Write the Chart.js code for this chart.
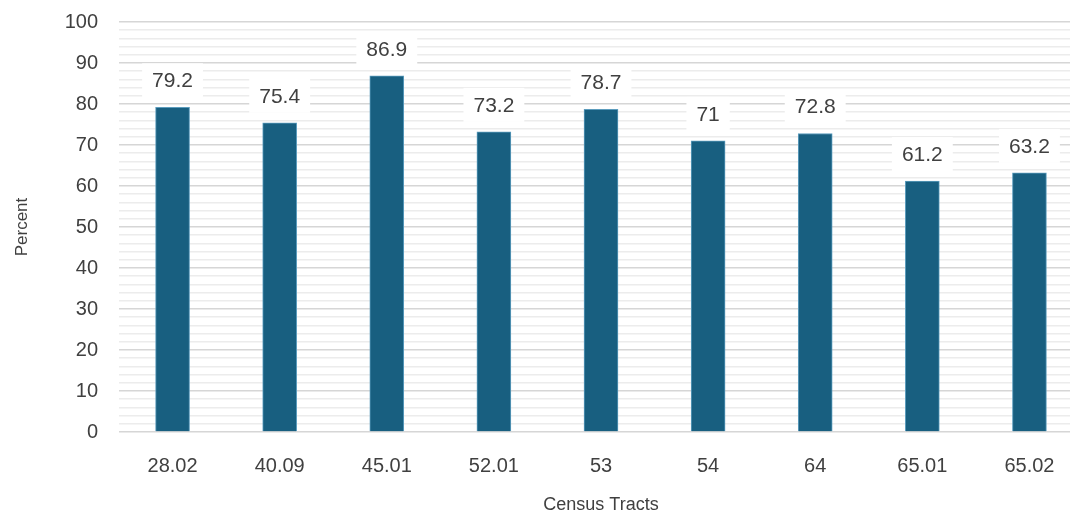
<!DOCTYPE html>
<html>
<head>
<meta charset="utf-8">
<script src="https://cdn.jsdelivr.net/npm/chart.js@4.4.1/dist/chart.umd.min.js"></script>
<style>
  html, body { margin: 0; padding: 0; background: #ffffff; overflow: hidden; }
  #wrap { width: 1083px; height: 517px; position: relative; }
</style>
</head>
<body>
<div id="wrap"><canvas id="chart"></canvas></div>
<script>
// Census tract categories and percent values
const tracts = ['28.02', '40.09', '45.01', '52.01', '53', '54', '64', '65.01', '65.02'];
const percents = [79.2, 75.4, 86.9, 73.2, 78.7, 71, 72.8, 61.2, 63.2];
const valueLabels = ['79.2', '75.4', '86.9', '73.2', '78.7', '71', '72.8', '61.2', '63.2'];

const FONT = "'Liberation Sans', Arial, sans-serif";
const TEXT = '#404040';

// Value labels drawn above each bar on a white box
const barLabels = {
  id: 'barLabels',
  afterDatasetsDraw(chart) {
    const { ctx } = chart;
    const meta = chart.getDatasetMeta(0);
    ctx.save();
    ctx.font = '21px ' + FONT;
    ctx.textAlign = 'center';
    ctx.textBaseline = 'middle';
    meta.data.forEach((bar, i) => {
      const txt = valueLabels[i];
      const cy = bar.y - 27;
      const w = ctx.measureText(txt).width + 20;
      const h = 34;
      ctx.fillStyle = '#ffffff';
      ctx.fillRect(bar.x - w / 2, cy - h / 2, w, h);
      ctx.fillStyle = TEXT;
      ctx.fillText(txt, bar.x, cy + 1);
    });
    ctx.restore();
  }
};

new Chart(document.getElementById('chart'), {
  type: 'bar',
  data: {
    labels: tracts,
    datasets: [{
      data: percents,
      backgroundColor: '#185f80',
      borderColor: '#5b9cbd',
      borderWidth: 1,
      barThickness: 34
    }]
  },
  options: {
    responsive: true,
    maintainAspectRatio: false,
    animation: false,
    layout: { padding: { top: 22, left: 0, right: 0, bottom: 0 } },
    plugins: { legend: { display: false }, tooltip: { enabled: false } },
    scales: {
      x: {
        grid: { display: false, drawTicks: false },
        border: { display: false },
        ticks: { color: TEXT, font: { family: FONT, size: 20 }, padding: 22 },
        title: {
          display: true, text: 'Census Tracts', color: TEXT,
          font: { family: FONT, size: 18 }, padding: { top: 0, bottom: 1 }
        },
        afterFit(scale) { scale.height = 85; scale.paddingLeft = 0; scale.paddingRight = 0; }
      },
      y: {
        min: 0, max: 100,
        ticks: {
          stepSize: 2, autoSkip: false,
          color: TEXT, font: { family: FONT, size: 20 }, padding: 21,
          callback: (v) => (v % 10 === 0 ? String(v) : '')
        },
        grid: {
          drawTicks: false,
          lineWidth: 1.5,
          color: (c) => (c.tick && c.tick.value % 10 === 0 ? '#d6d6d6' : '#ececec')
        },
        border: { display: false },
        title: {
          display: true, text: 'Percent', color: TEXT,
          font: { family: FONT, size: 17 }, padding: { top: 12, bottom: 0 }
        },
        afterFit(scale) { scale.width = 119; scale.paddingTop = 0; scale.paddingBottom = 0; }
      }
    }
  },
  plugins: [barLabels]
});
</script>
</body>
</html>
